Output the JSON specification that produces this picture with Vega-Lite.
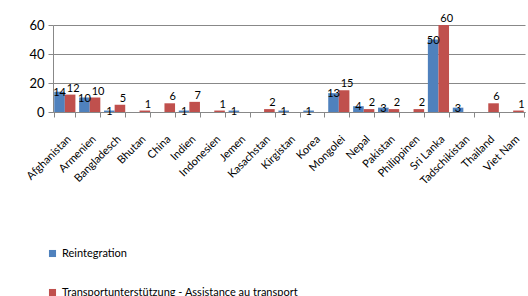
{
  "$schema": "https://vega.github.io/schema/vega-lite/v6.json",
  "width": 472,
  "height": 87,
  "autosize": {"type": "none"},
  "padding": {"left": 53, "top": 25, "right": 3, "bottom": 184},
  "config": {"font": "Lato", "view": {"stroke": null}},
  "data": {
    "values": [
      {"land": "Afghanistan", "serie": "Reintegration", "wert": 14},
      {"land": "Afghanistan", "serie": "Transportunterstützung - Assistance au transport", "wert": 12},
      {"land": "Armenien", "serie": "Reintegration", "wert": 10},
      {"land": "Armenien", "serie": "Transportunterstützung - Assistance au transport", "wert": 10},
      {"land": "Bangladesch", "serie": "Reintegration", "wert": 1},
      {"land": "Bangladesch", "serie": "Transportunterstützung - Assistance au transport", "wert": 5},
      {"land": "Bhutan", "serie": "Transportunterstützung - Assistance au transport", "wert": 1},
      {"land": "China", "serie": "Transportunterstützung - Assistance au transport", "wert": 6},
      {"land": "Indien", "serie": "Reintegration", "wert": 1},
      {"land": "Indien", "serie": "Transportunterstützung - Assistance au transport", "wert": 7},
      {"land": "Indonesien", "serie": "Transportunterstützung - Assistance au transport", "wert": 1},
      {"land": "Jemen", "serie": "Reintegration", "wert": 1},
      {"land": "Kasachstan", "serie": "Transportunterstützung - Assistance au transport", "wert": 2},
      {"land": "Kirgistan", "serie": "Reintegration", "wert": 1},
      {"land": "Korea", "serie": "Reintegration", "wert": 1},
      {"land": "Mongolei", "serie": "Reintegration", "wert": 13},
      {"land": "Mongolei", "serie": "Transportunterstützung - Assistance au transport", "wert": 15},
      {"land": "Nepal", "serie": "Reintegration", "wert": 4},
      {"land": "Nepal", "serie": "Transportunterstützung - Assistance au transport", "wert": 2},
      {"land": "Pakistan", "serie": "Reintegration", "wert": 3},
      {"land": "Pakistan", "serie": "Transportunterstützung - Assistance au transport", "wert": 2},
      {"land": "Philippinen", "serie": "Transportunterstützung - Assistance au transport", "wert": 2},
      {"land": "Sri Lanka", "serie": "Reintegration", "wert": 50},
      {"land": "Sri Lanka", "serie": "Transportunterstützung - Assistance au transport", "wert": 60},
      {"land": "Tadschikistan", "serie": "Reintegration", "wert": 3},
      {"land": "Thailand", "serie": "Transportunterstützung - Assistance au transport", "wert": 6},
      {"land": "Viet Nam", "serie": "Transportunterstützung - Assistance au transport", "wert": 1}
    ]
  },
  "encoding": {
    "x": {
      "field": "land", "type": "nominal",
      "sort": ["Afghanistan","Armenien","Bangladesch","Bhutan","China","Indien","Indonesien","Jemen","Kasachstan","Kirgistan","Korea","Mongolei","Nepal","Pakistan","Philippinen","Sri Lanka","Tadschikistan","Thailand","Viet Nam"],
      "scale": {"paddingInner": 0.15, "paddingOuter": 0.05},
      "axis": {"title": null, "labelAngle": -45, "tickBand": "extent", "labelFontSize": 11, "labelColor": "#000", "domainColor": "#888", "tickColor": "#888", "labelPadding": 16}
    },
    "xOffset": {"field": "serie", "type": "nominal", "sort": ["Reintegration", "Transportunterstützung - Assistance au transport"]},
    "y": {
      "field": "wert", "type": "quantitative",
      "scale": {"domain": [0, 60]},
      "axis": {"title": null, "values": [0, 20, 40, 60], "gridColor": "#888", "domainColor": "#888", "tickColor": "#888", "labelFontSize": 13, "labelColor": "#000", "tickSize": 5, "labelPadding": 4}
    }
  },
  "layer": [
    {
      "mark": {"type": "bar"},
      "encoding": {
        "color": {
          "field": "serie", "type": "nominal",
          "scale": {"domain": ["Reintegration", "Transportunterstützung - Assistance au transport"], "range": ["#4F81BD", "#C0504D"]},
          "legend": {"title": null, "orient": "none", "legendX": -6, "legendY": 223, "direction": "vertical", "symbolType": "square", "symbolSize": 50, "labelFontSize": 11, "labelColor": "#000", "rowPadding": 27, "symbolStrokeWidth": 0, "labelLimit": 400}
        }
      }
    },
    {
      "transform": [{"filter": "datum.serie === 'Reintegration'"}],
      "mark": {"type": "text", "fontSize": 11, "baseline": "middle", "dy": 1, "color": "#000"},
      "encoding": {"text": {"field": "wert", "type": "quantitative"}}
    },
    {
      "transform": [{"filter": "datum.serie !== 'Reintegration'"}],
      "mark": {"type": "text", "fontSize": 11, "baseline": "middle", "dy": -6, "dx": 3, "color": "#000"},
      "encoding": {"text": {"field": "wert", "type": "quantitative"}}
    }
  ]
}
